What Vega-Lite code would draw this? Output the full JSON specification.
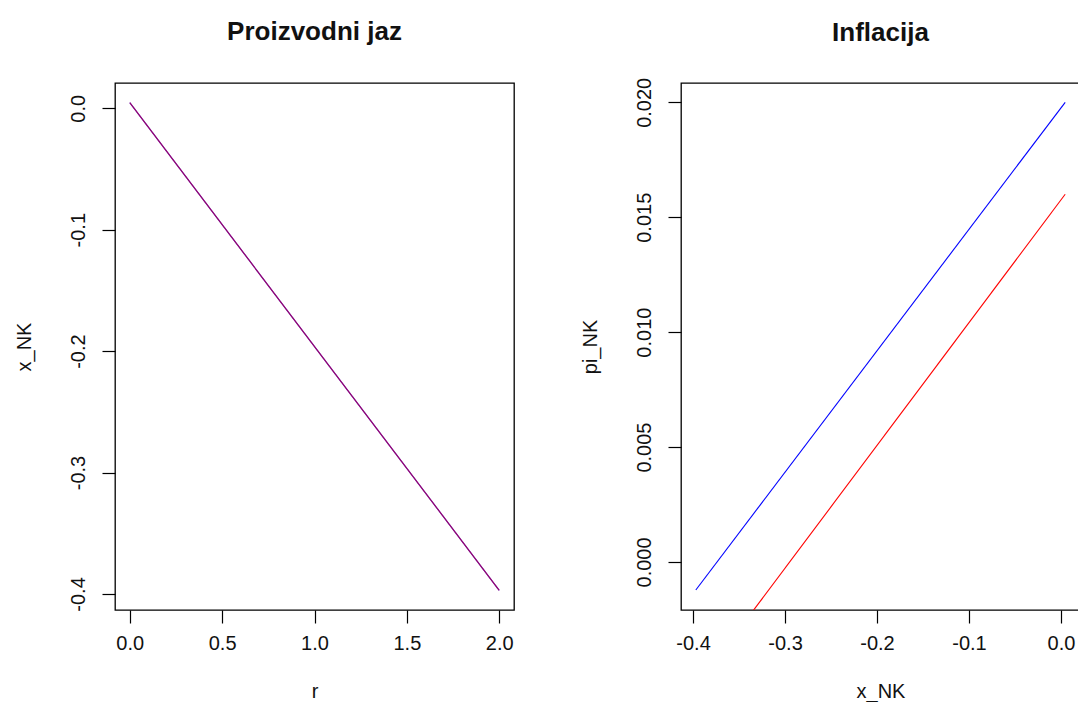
{
  "$schema": "https://vega.github.io/schema/vega-lite/v6.json",
  "background": "white",
  "padding": {"left": 13, "top": 18, "right": 0, "bottom": 0},
  "bounds": "flush",
  "spacing": 167,
  "datasets": {
    "gap": [
      {"series": "blue", "r": 0, "x_NK": 0.0046},
      {"series": "blue", "r": 2, "x_NK": -0.397},
      {"series": "red", "r": 0, "x_NK": 0.0046},
      {"series": "red", "r": 2, "x_NK": -0.397}
    ],
    "infl": [
      {"series": "blue", "x_NK": -0.397, "pi_NK": -0.00122},
      {"series": "blue", "x_NK": 0.0046, "pi_NK": 0.0200},
      {"series": "red", "x_NK": -0.397, "pi_NK": -0.00545},
      {"series": "red", "x_NK": 0.0046, "pi_NK": 0.0160}
    ]
  },
  "config": {
    "font": "Liberation Sans",
    "view": {"stroke": "black", "strokeWidth": 1.3},
    "axis": {
      "domain": false,
      "grid": false,
      "tickColor": "black",
      "tickSize": 13,
      "tickWidth": 1.2,
      "labelFont": "Liberation Sans",
      "labelFontSize": 20,
      "labelColor": "#111",
      "titleFont": "Liberation Sans",
      "titleFontSize": 20,
      "titleFontWeight": "normal",
      "titleColor": "#111",
      "labelExpr": "replace(datum.label, '\u2212', '-')"
    },
    "axisY": {"labelAngle": -90, "labelAlign": "center", "labelBaseline": "bottom", "labelPadding": 14, "titlePadding": 34},
    "axisX": {"labelPadding": 10, "titlePadding": 28},
    "title": {"font": "Liberation Sans", "fontSize": 26, "fontWeight": "bold", "color": "#111", "anchor": "middle", "baseline": "alphabetic"}
  },
  "hconcat": [
    {
      "width": 399,
      "height": 527,
      "title": {"text": "Proizvodni jaz", "offset": 38},
      "data": {"name": "gap"},
      "encoding": {
        "x": {"field": "r", "type": "quantitative", "title": "r", "scale": {"domain": [-0.08, 2.08], "nice": false, "zero": false}, "axis": {"values": [0, 0.5, 1, 1.5, 2], "format": ".1f"}},
        "y": {"field": "x_NK", "type": "quantitative", "title": "x_NK", "scale": {"domain": [-0.4132, 0.0208], "nice": false, "zero": false}, "axis": {"values": [0, -0.1, -0.2, -0.3, -0.4], "format": ".1f"}}
      },
      "layer": [
        {"transform": [{"filter": "datum.series == 'blue'"}], "mark": {"type": "line", "color": "#0000FF", "strokeWidth": 1.2, "clip": true}},
        {"transform": [{"filter": "datum.series == 'red'"}], "mark": {"type": "line", "color": "#FF0000", "strokeWidth": 1.2, "clip": true, "opacity": 0.6}}
      ]
    },
    {
      "width": 399,
      "height": 527,
      "title": {"text": "Inflacija", "offset": 31},
      "data": {"name": "infl"},
      "encoding": {
        "x": {"field": "x_NK", "type": "quantitative", "title": "x_NK", "scale": {"domain": [-0.4131, 0.0207], "nice": false, "zero": false}, "axis": {"values": [-0.4, -0.3, -0.2, -0.1, 0], "format": ".1f"}},
        "y": {"field": "pi_NK", "type": "quantitative", "title": "pi_NK", "scale": {"domain": [-0.00209, 0.02084], "nice": false, "zero": false}, "axis": {"values": [0, 0.005, 0.01, 0.015, 0.02], "format": ".3f"}}
      },
      "layer": [
        {"transform": [{"filter": "datum.series == 'blue'"}], "mark": {"type": "line", "color": "#0000FF", "strokeWidth": 1.1, "clip": true}},
        {"transform": [{"filter": "datum.series == 'red'"}], "mark": {"type": "line", "color": "#FF0000", "strokeWidth": 1.1, "clip": true}}
      ]
    }
  ]
}
